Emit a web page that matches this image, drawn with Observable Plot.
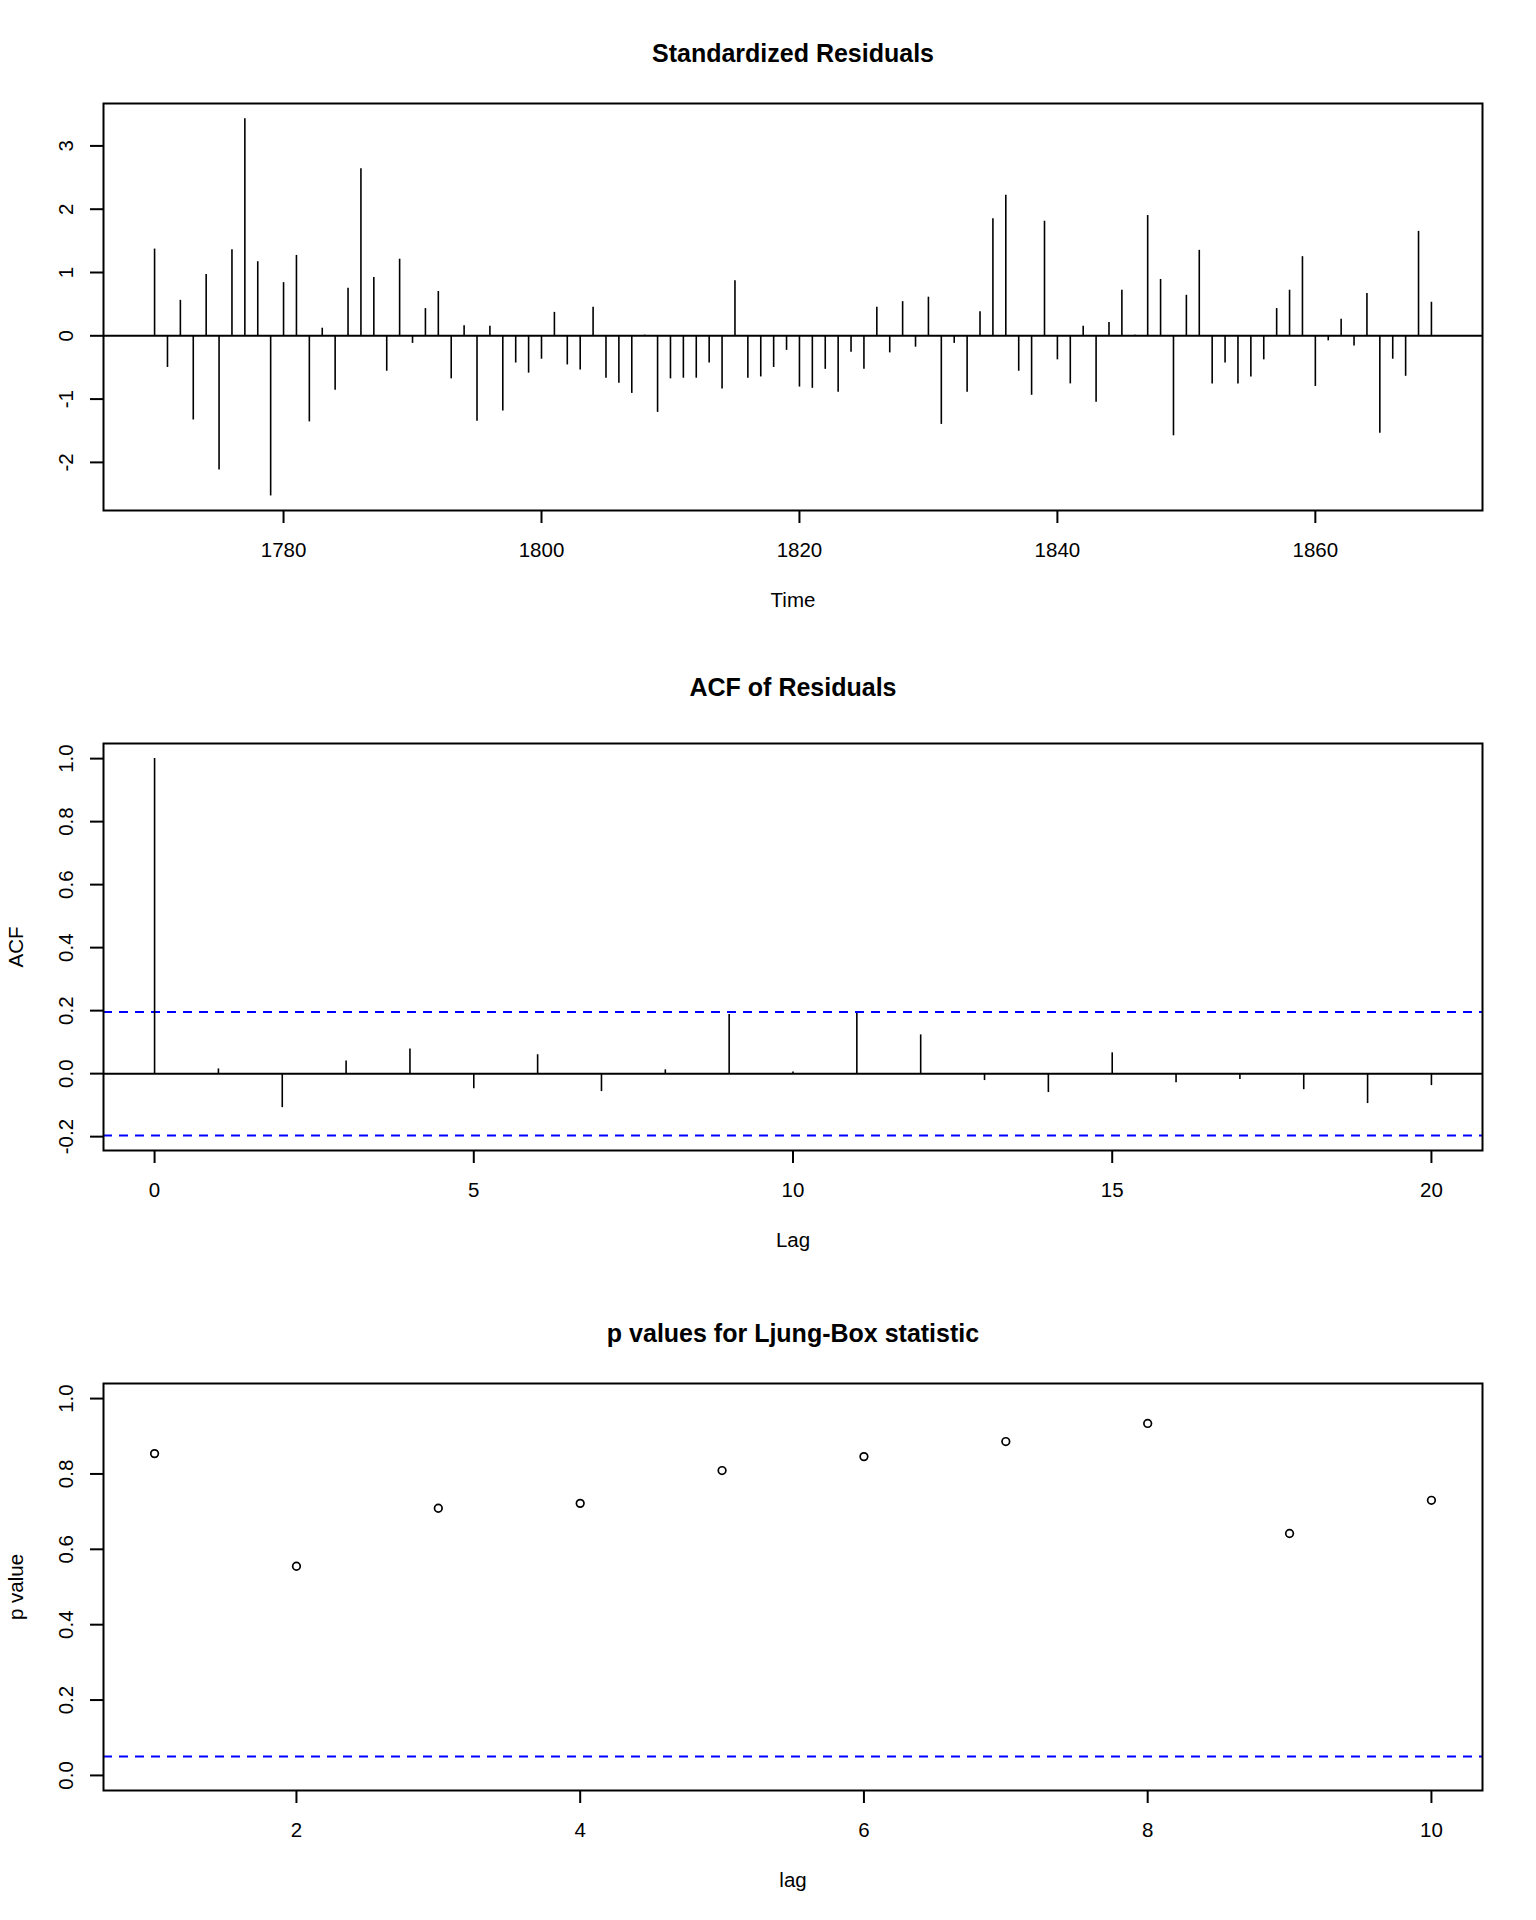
<!DOCTYPE html>
<html>
<head>
<meta charset="utf-8">
<script src="https://cdn.jsdelivr.net/npm/d3@7"></script>
<script src="https://cdn.jsdelivr.net/npm/@observablehq/plot@0.6"></script>
<style>
  html, body { margin: 0; padding: 0; background: white; }
  #chart svg { display: block; }
</style>
</head>
<body>
<div id="chart"></div>
<script>
// ---- Data ----
const startYear = 1770;
const residuals = [
  1.37, -0.50, 0.56, -1.33, 0.97, -2.12, 1.36, 3.43, 1.17, -2.53,
  0.84, 1.27, -1.36, 0.12, -0.86, 0.75, 2.64, 0.92, -0.56, 1.21,
  -0.12, 0.43, 0.70, -0.68, 0.16,
  -1.35, 0.15, -1.19, -0.43, -0.59, -0.37, 0.37, -0.46, -0.54, 0.45,
  -0.67, -0.75, -0.91, 0.01, -1.21, -0.68, -0.67, -0.67, -0.43, -0.84,
  0.87, -0.67, -0.65, -0.50, -0.23, -0.81, -0.83, -0.53,
  -0.89, -0.26, -0.53, 0.45, -0.27, 0.54, -0.18, 0.61, -1.40, -0.12,
  -0.89, 0.38, 1.85, 2.22, -0.56, -0.94, 1.81, -0.38, -0.76, 0.15,
  -1.05, 0.21, 0.72, 0.01, 1.90, 0.89, -1.58,
  0.64, 1.35, -0.76, -0.43, -0.76, -0.65, -0.38, 0.43, 0.72, 1.25,
  -0.80, -0.08, 0.26, -0.16, 0.67, -1.54, -0.37, -0.64, 1.65, 0.53
];
const years = residuals.map((_, i) => startYear + i);

const acfLags = [0,1,2,3,4,5,6,7,8,9,10,11,12,13,14,15,16,17,18,19,20];
const acfValues = [1.0, 0.015, -0.108, 0.040, 0.078, -0.048, 0.060, -0.057, 0.012, 0.188,
                   0.005, 0.191, 0.123, -0.022, -0.060, 0.066, -0.029, -0.019, -0.051, -0.095, -0.038];
const acfBound = 0.196;

const pLags = [1,2,3,4,5,6,7,8,9,10];
const pValues = [0.854, 0.555, 0.709, 0.722, 0.809, 0.846, 0.886, 0.934, 0.642, 0.730];
const pThreshold = 0.05;

const residTicksX = [1780, 1800, 1820, 1840, 1860];
const residTicksY = [-2, -1, 0, 1, 2, 3];
const acfTicksX = [0, 5, 10, 15, 20];
const acfTicksY = [-0.2, 0, 0.2, 0.4, 0.6, 0.8, 1.0];
const pTicksX = [2, 4, 6, 8, 10];
const pTicksY = [0, 0.2, 0.4, 0.6, 0.8, 1.0];

// ---- Tables ----
const residData = years.map((y, i) => ({year: y, value: residuals[i]}));
const acfData = acfLags.map((l, i) => ({lag: l, acf: acfValues[i]}));
const pData = pLags.map((l, i) => ({lag: l, p: pValues[i]}));

const FONT = "'Liberation Sans', Arial, Helvetica, sans-serif";
const BLUE = "#0000ff";

function panel({title, titleDy = -50, xDomain, yDomain, xTicks, yTicks, yFormat, xLabel, yLabel, marks}) {
  return Plot.plot({
    width: 1536,
    height: 640,
    marginLeft: 103,
    marginRight: 54,
    marginTop: 103,
    marginBottom: 130,
    x: {domain: xDomain},
    y: {domain: yDomain},
    style: {fontFamily: FONT, fontSize: "20.5px", background: "white", color: "black"},
    marks: [
      ...marks,
      Plot.frame({stroke: "black", strokeWidth: 2}),
      Plot.axisX({ticks: xTicks, tickSize: 13, tickPadding: 19, fontSize: 20.5, label: null, strokeWidth: 2, tickFormat: d => String(d)}),
      Plot.axisY({ticks: yTicks, tickSize: 13, tickPadding: 24, tickRotate: -90, textAnchor: "middle", lineAnchor: "middle",
                  fontSize: 20.5, label: null, strokeWidth: 2, tickFormat: yFormat}),
      Plot.text([title], {text: d => d, frameAnchor: "top", dy: titleDy, fontWeight: "bold", fontSize: 25, lineAnchor: "middle"}),
      Plot.text([xLabel], {text: d => d, frameAnchor: "bottom", dy: 90, fontSize: 20.5, lineAnchor: "middle"}),
      yLabel ? Plot.text([yLabel], {text: d => d, frameAnchor: "left", dx: -87, rotate: -90, fontSize: 20.5, lineAnchor: "middle", textAnchor: "middle"}) : null
    ]
  });
}

const chart = document.getElementById("chart");

chart.append(panel({
  title: "Standardized Residuals",
  xDomain: [1766.04, 1872.96],
  yDomain: [-2.76, 3.67],
  xTicks: residTicksX,
  yTicks: residTicksY,
  yFormat: d => String(d),
  xLabel: "Time",
  yLabel: null,
  marks: [
    Plot.ruleY([0], {stroke: "black", strokeWidth: 2}),
    Plot.ruleX(residData, {x: "year", y1: 0, y2: "value", stroke: "black", strokeWidth: 1.6})
  ]
}));

chart.append(panel({
  title: "ACF of Residuals",
  titleDy: -56,
  xDomain: [-0.8, 20.8],
  yDomain: [-0.244, 1.048],
  xTicks: acfTicksX,
  yTicks: acfTicksY,
  yFormat: d => d.toFixed(1),
  xLabel: "Lag",
  yLabel: "ACF",
  marks: [
    Plot.ruleY([acfBound, -acfBound], {stroke: BLUE, strokeWidth: 2, strokeDasharray: "9,7"}),
    Plot.ruleY([0], {stroke: "black", strokeWidth: 2}),
    Plot.ruleX(acfData, {x: "lag", y1: 0, y2: "acf", stroke: "black", strokeWidth: 1.6})
  ]
}));

chart.append(panel({
  title: "p values for Ljung-Box statistic",
  xDomain: [0.64, 10.36],
  yDomain: [-0.04, 1.04],
  xTicks: pTicksX,
  yTicks: pTicksY,
  yFormat: d => d.toFixed(1),
  xLabel: "lag",
  yLabel: "p value",
  marks: [
    Plot.ruleY([pThreshold], {stroke: BLUE, strokeWidth: 2, strokeDasharray: "9,7"}),
    Plot.dot(pData, {x: "lag", y: "p", r: 3.8, stroke: "black", strokeWidth: 1.7, fill: "none"})
  ]
}));
</script>
</body>
</html>
